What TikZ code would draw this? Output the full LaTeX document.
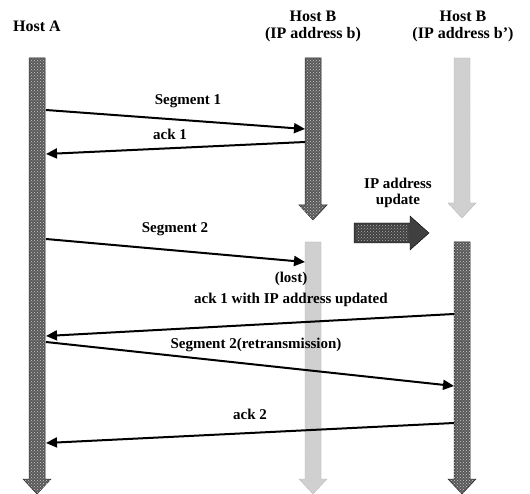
\documentclass[tikz,border=0pt]{standalone}
\usepackage{fontspec}
\setmainfont{Liberation Serif}
\usetikzlibrary{patterns,arrows.meta}
\tikzset{
  lbl/.style={font=\bfseries\fontsize{15}{16}\selectfont, inner sep=1pt},
  hdr/.style={font=\bfseries\fontsize{16}{17}\selectfont, inner sep=1pt, align=center},
  msg/.style={line width=2pt, -{Triangle[length=11pt,width=10pt]}},
  darkbar/.style={fill=black!65, draw=black!85, line width=0.5pt},
  faintbar/.style={fill=black!18, draw=black!30, line width=0.3pt},
}
% timeline arrow: style, x centre, top y, tip y (pixel coords, y down)
\newcommand{\tlarrow}[4]{%
  \path[#1] (#2-8,-#3) -- (#2+8,-#3) -- (#2+8,-#4+15) -- (#2+14,-#4+15) -- (#2,-#4) -- (#2-14,-#4+15) -- (#2-8,-#4+15) -- cycle;
  \path[pattern=crosshatch dots, pattern color=white!80!black] (#2-8,-#3) -- (#2+8,-#3) -- (#2+8,-#4+15) -- (#2+14,-#4+15) -- (#2,-#4) -- (#2-14,-#4+15) -- (#2-8,-#4+15) -- cycle;}
\begin{document}
\begin{tikzpicture}[x=1pt,y=1pt]
\useasboundingbox (0,0) rectangle (530,-494);
% timelines
\tlarrow{darkbar}{37}{58}{494}
\tlarrow{darkbar}{313}{58}{220}
\tlarrow{faintbar}{462}{58}{218}
\tlarrow{faintbar}{313}{242}{494}
\tlarrow{darkbar}{462}{242}{494}
% headers
\node[hdr] (hA) at (37,-26) {Host A};
\node[hdr] (hB) at (313,-26) {Host B\\(IP address b)};
\node[hdr] (hB2) at (463,-26) {Host B\\(IP address b')};
% anchor coordinates
\coordinate (s1a) at (46,-110); \coordinate (s1b) at (305,-129);
\coordinate (a1a) at (305,-142); \coordinate (a1b) at (46,-154);
\coordinate (s2a) at (46,-239); \coordinate (s2b) at (305,-262);
\coordinate (a3a) at (454,-314); \coordinate (a3b) at (46,-336);
\coordinate (r2a) at (46,-342); \coordinate (r2b) at (454,-386);
\coordinate (a2a) at (454,-423); \coordinate (a2b) at (46,-443);
% messages
\draw[msg] (s1a) -- (s1b);
\draw[msg] (a1a) -- (a1b);
\draw[msg] (s2a) -- (s2b);
\draw[msg] (a3a) -- (a3b);
\draw[msg] (r2a) -- (r2b);
\draw[msg] (a2a) -- (a2b);
% labels
\node[lbl] (l1) at (188,-101) {Segment 1};
\node[lbl] (l2) at (170,-134) {ack 1};
\node[lbl] (l3) at (175,-229) {Segment 2};
\node[lbl] (l4) at (291,-279) {(lost)};
\node[lbl] (l5) at (291,-300) {ack 1 with IP address updated};
\node[lbl] (l6) at (256,-345) {Segment 2(retransmission)};
\node[lbl] (l7) at (250,-414) {ack 2};
\node[lbl, align=center] (l8) at (398,-193) {IP address\\update};
% update arrow
\path[fill=black!75, draw=black] (354,-223) -- (410,-223) -- (410,-216) -- (429,-233) -- (410,-250) -- (410,-243) -- (354,-243) -- cycle;
\path[pattern=crosshatch dots, pattern color=white!70!black] (356,-225) -- (408,-225) -- (408,-241) -- (356,-241) -- cycle;
\end{tikzpicture}
\end{document}
